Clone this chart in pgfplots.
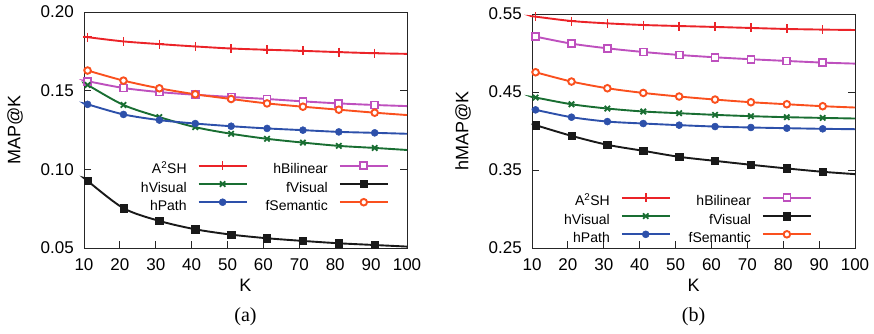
\documentclass[border=0pt]{standalone}
\usepackage{fontspec}
\setmainfont{Liberation Serif}
\newfontfamily\hel{Liberation Sans}
\usepackage{pgfplots}
\usepackage{pgfplotstable}
\pgfplotsset{compat=1.18}
\definecolor{cRed}{RGB}{235,35,40}
\definecolor{cGreen}{RGB}{25,110,50}
\definecolor{cBlue}{RGB}{45,80,170}
\definecolor{cMag}{RGB}{190,80,190}
\definecolor{cOra}{RGB}{250,80,30}

\pgfplotstableread{
x    a2sh   hvis   hpath  hbil   fvis   fsem
10   0.1843 0.1545 0.1418 0.1563 0.0945 0.1635
11   0.1840 0.1536 0.1413 0.1560 0.0926 0.1628
21   0.1813 0.1409 0.1349 0.1517 0.0753 0.1564
31   0.1796 0.1332 0.1313 0.1491 0.0672 0.1515
41   0.1781 0.1268 0.1291 0.1474 0.0619 0.1477
51   0.1768 0.1226 0.1274 0.1460 0.0585 0.1447
61   0.1760 0.1194 0.1260 0.1447 0.0562 0.1419
71   0.1753 0.1170 0.1249 0.1432 0.0545 0.1398
81   0.1745 0.1149 0.1238 0.1419 0.0530 0.1379
91   0.1738 0.1136 0.1232 0.1409 0.0519 0.1360
100  0.1734 0.1123 0.1226 0.1402 0.0509 0.1345
}\tabA

\pgfplotstableread{
x    a2sh   hvis   hpath  hbil   fvis   fsem
10   0.5470 0.4436 0.4280 0.5220 0.4090 0.4765
11   0.5466 0.4429 0.4271 0.5210 0.4075 0.4753
21   0.5410 0.4343 0.4177 0.5120 0.3938 0.4634
31   0.5380 0.4288 0.4121 0.5060 0.3823 0.4548
41   0.5359 0.4250 0.4096 0.5013 0.3746 0.4488
51   0.5346 0.4228 0.4075 0.4975 0.3669 0.4442
61   0.5334 0.4207 0.4057 0.4945 0.3617 0.4403
71   0.5321 0.4190 0.4045 0.4920 0.3567 0.4369
81   0.5308 0.4177 0.4036 0.4898 0.3520 0.4343
91   0.5300 0.4168 0.4028 0.4877 0.3477 0.4318
100  0.5295 0.4160 0.4023 0.4864 0.3447 0.4301
}\tabB

\pgfplotsset{
  common/.style={
    width=323pt, scale only axis, clip=false,
    xmin=10, xmax=100, xtick={10,20,...,100},
    axis line style={line width=1pt, color=black!85},
    tick style={line width=0.9pt, color=black!85},
    major tick length=7pt,
    xtick pos=bottom, ytick pos=both, tick align=inside,
    /pgf/number format/assume math mode=true,
    tick label style={font=\hel\fontsize{17}{17}\selectfont},
    xticklabel style={anchor=center, yshift=-17pt},
    yticklabel style={anchor=east, inner sep=0pt, xshift=-10pt},
    yticklabel={\pgfmathprintnumber[fixed,fixed zerofill,precision=2]{\tick}},
    every axis x label/.style={at={(axis description cs:0.5,0)}, anchor=center, yshift=-37pt, font=\hel\fontsize{18}{18}\selectfont},
    every axis y label/.style={at={(axis description cs:-0.2136,0.5)}, rotate=90, anchor=center, font=\hel\fontsize{18}{18}\selectfont},
    xlabel={K},
    legend columns=2, legend plot pos=right, legend cell align=right,
    legend style={draw=none, fill=none, inner sep=0pt,
      font=\hel\fontsize{14}{14}\selectfont,
      nodes={inner sep=0pt, text height=10pt, text depth=3pt},
      row sep=3.7pt,
      /tikz/every odd column/.append style={column sep=11pt},
      /tikz/every even column/.append style={column sep=18pt}},
    legend image code/.code={\draw[##1, mark indices={2}] plot coordinates {(0pt,4.5pt) (24pt,4.5pt) (48pt,4.5pt)};},
    every axis plot/.append style={line width=1.9pt, smooth, tension=0.5, mark indices={2,3,4,5,6,7,8,9,10}},
  },
  sA/.style={cRed, mark=+, mark size=4.5pt, mark options={solid, line width=1.5pt}},
  sV/.style={cGreen, mark=x, mark size=3.8pt, mark options={solid, line width=1.8pt}},
  sP/.style={cBlue, mark=*, mark size=3.5pt, mark options={solid, line width=0.5pt}},
  sB/.style={cMag, mark=square*, mark size=3.5pt, mark options={solid, fill=white, line width=1.8pt}},
  sF/.style={black!90, mark=square*, mark size=3.7pt, mark options={solid, line width=0.5pt}},
  sS/.style={cOra, mark=*, mark size=3.3pt, mark options={solid, fill=white, line width=1.9pt}},
}

\begin{document}
\begin{tikzpicture}
\useasboundingbox (0,0) rectangle (874pt,333pt);
\begin{axis}[common, at={(84pt,85pt)}, anchor=south west, height=236pt,
  ymin=0.05, ymax=0.20, ytick={0.05,0.10,0.15,0.20},
  ylabel={MAP@K},
  legend style={at={(rel axis cs:0.944,0.369)}, anchor=north east}]
\addplot[sA] table[x=x,y=a2sh] {\tabA}; \addlegendentry{A\textsuperscript{2}SH}
\addplot[sB] table[x=x,y=hbil] {\tabA}; \addlegendentry{hBilinear}
\addplot[sV] table[x=x,y=hvis] {\tabA}; \addlegendentry{hVisual}
\addplot[sF] table[x=x,y=fvis] {\tabA}; \addlegendentry{fVisual}
\addplot[sP] table[x=x,y=hpath] {\tabA}; \addlegendentry{hPath}
\addplot[sS] table[x=x,y=fsem] {\tabA}; \addlegendentry{fSemantic}
\node[font=\fontsize{20}{20}\selectfont] at (rel axis cs:0.5,0) [yshift=-69pt] {(a)};
\end{axis}
\begin{axis}[common, at={(532pt,85pt)}, anchor=south west, height=234pt,
  ymin=0.25, ymax=0.55, ytick={0.25,0.35,0.45,0.55},
  ylabel={hMAP@K},
  legend style={at={(rel axis cs:0.867,0.235)}, anchor=north east}]
\addplot[sA] table[x=x,y=a2sh] {\tabB}; \addlegendentry{A\textsuperscript{2}SH}
\addplot[sB] table[x=x,y=hbil] {\tabB}; \addlegendentry{hBilinear}
\addplot[sV] table[x=x,y=hvis] {\tabB}; \addlegendentry{hVisual}
\addplot[sF] table[x=x,y=fvis] {\tabB}; \addlegendentry{fVisual}
\addplot[sP] table[x=x,y=hpath] {\tabB}; \addlegendentry{hPath}
\addplot[sS] table[x=x,y=fsem] {\tabB}; \addlegendentry{fSemantic}
\node[font=\fontsize{20}{20}\selectfont] at (rel axis cs:0.5,0) [yshift=-69pt] {(b)};
\end{axis}
\end{tikzpicture}
\end{document}
